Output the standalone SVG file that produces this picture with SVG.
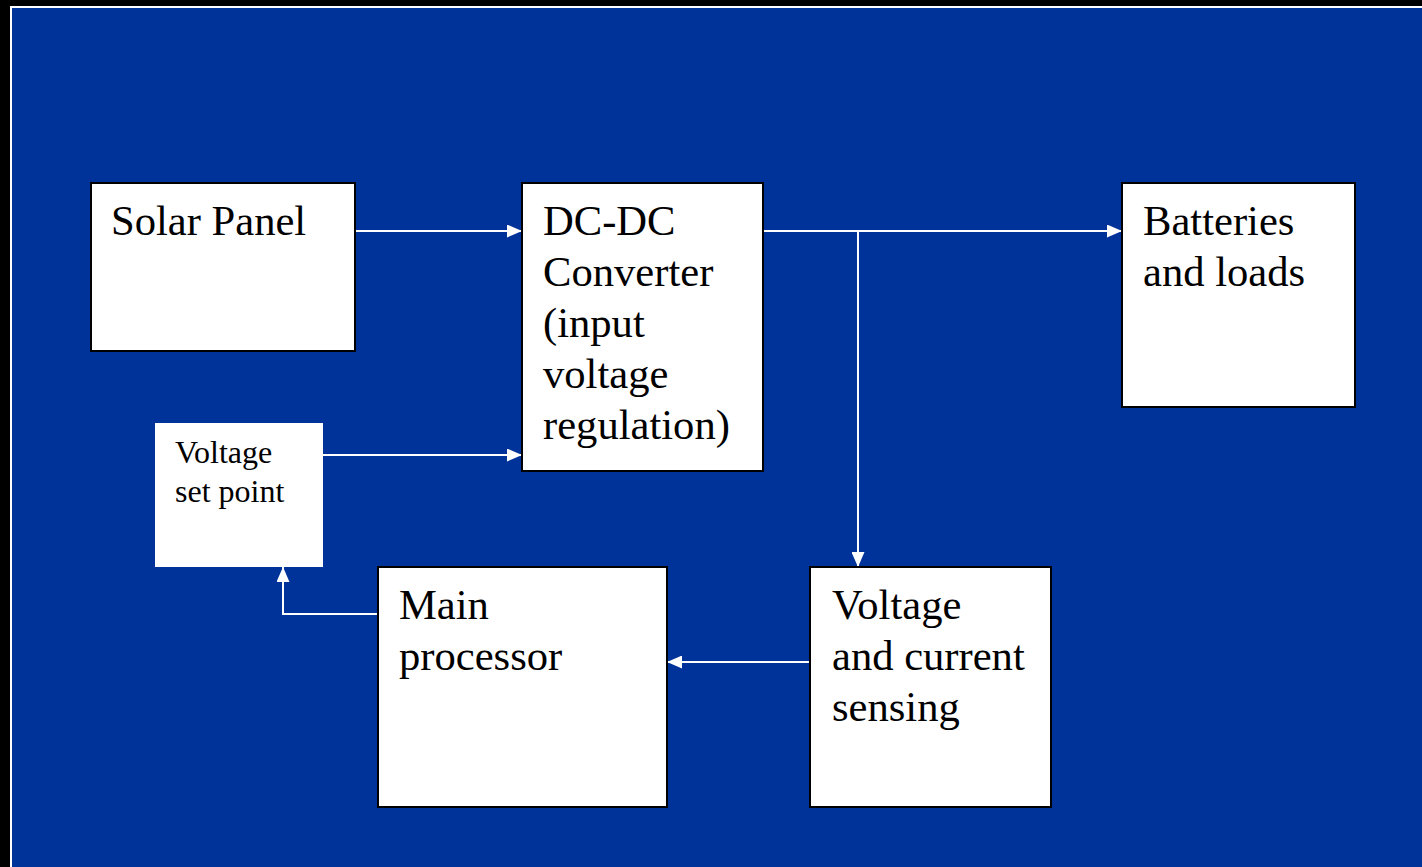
<svg xmlns="http://www.w3.org/2000/svg" width="1422" height="867" viewBox="0 0 1422 867">
<defs>
<style>
.box{fill:#fff;stroke:#000;stroke-width:2}
.t{font-family:"Liberation Serif","Times New Roman",serif;font-size:42.6px;fill:#000}
.s{font-family:"Liberation Serif","Times New Roman",serif;font-size:32px;fill:#000}
.c{fill:none;stroke:#fff;stroke-width:2}
</style>
<marker id="ah" markerWidth="15" markerHeight="13" refX="15" refY="6.5" orient="auto" markerUnits="userSpaceOnUse">
<path d="M0,0 L15,6.5 L0,13 Z" fill="#fff"/>
</marker>
</defs>
<rect x="0" y="0" width="1422" height="867" fill="#000"/>
<rect x="10" y="6" width="1412" height="861" fill="#fff"/>
<rect x="12" y="8" width="1410" height="859" fill="#003399"/>
<g id="connectors">
<path class="c" d="M355,231 H522" marker-end="url(#ah)"/>
<path class="c" d="M763,231 H1122" marker-end="url(#ah)"/>
<path class="c" d="M858,231 V567" marker-end="url(#ah)"/>
<path class="c" d="M323,455 H522" marker-end="url(#ah)"/>
<path class="c" d="M810,662 H667" marker-end="url(#ah)"/>
<path class="c" d="M378,614 H283 V567" marker-end="url(#ah)"/>
</g>
<g id="solar-panel">
<rect class="box" x="91" y="183" width="264" height="168"/>
<text class="t" x="111" y="235">Solar Panel</text>
</g>
<g id="dc-dc-converter">
<rect class="box" x="522" y="183" width="241" height="288"/>
<text class="t" x="543" y="235">DC-DC</text>
<text class="t" x="543" y="286">Converter</text>
<text class="t" x="543" y="337">(input</text>
<text class="t" x="543" y="388">voltage</text>
<text class="t" x="543" y="439">regulation)</text>
</g>
<g id="batteries">
<rect class="box" x="1122" y="183" width="233" height="224"/>
<text class="t" x="1143" y="235">Batteries</text>
<text class="t" x="1143" y="286">and loads</text>
</g>
<g id="voltage-set-point">
<rect x="155" y="423" width="168" height="144" fill="#fff"/>
<text class="s" x="175" y="463">Voltage</text>
<text class="s" x="175" y="502">set point</text>
</g>
<g id="main-processor">
<rect class="box" x="378" y="567" width="289" height="240"/>
<text class="t" x="399" y="619">Main</text>
<text class="t" x="399" y="670">processor</text>
</g>
<g id="voltage-current-sensing">
<rect class="box" x="810" y="567" width="241" height="240"/>
<text class="t" x="832" y="619">Voltage</text>
<text class="t" x="832" y="670">and current</text>
<text class="t" x="832" y="721">sensing</text>
</g>
</svg>
